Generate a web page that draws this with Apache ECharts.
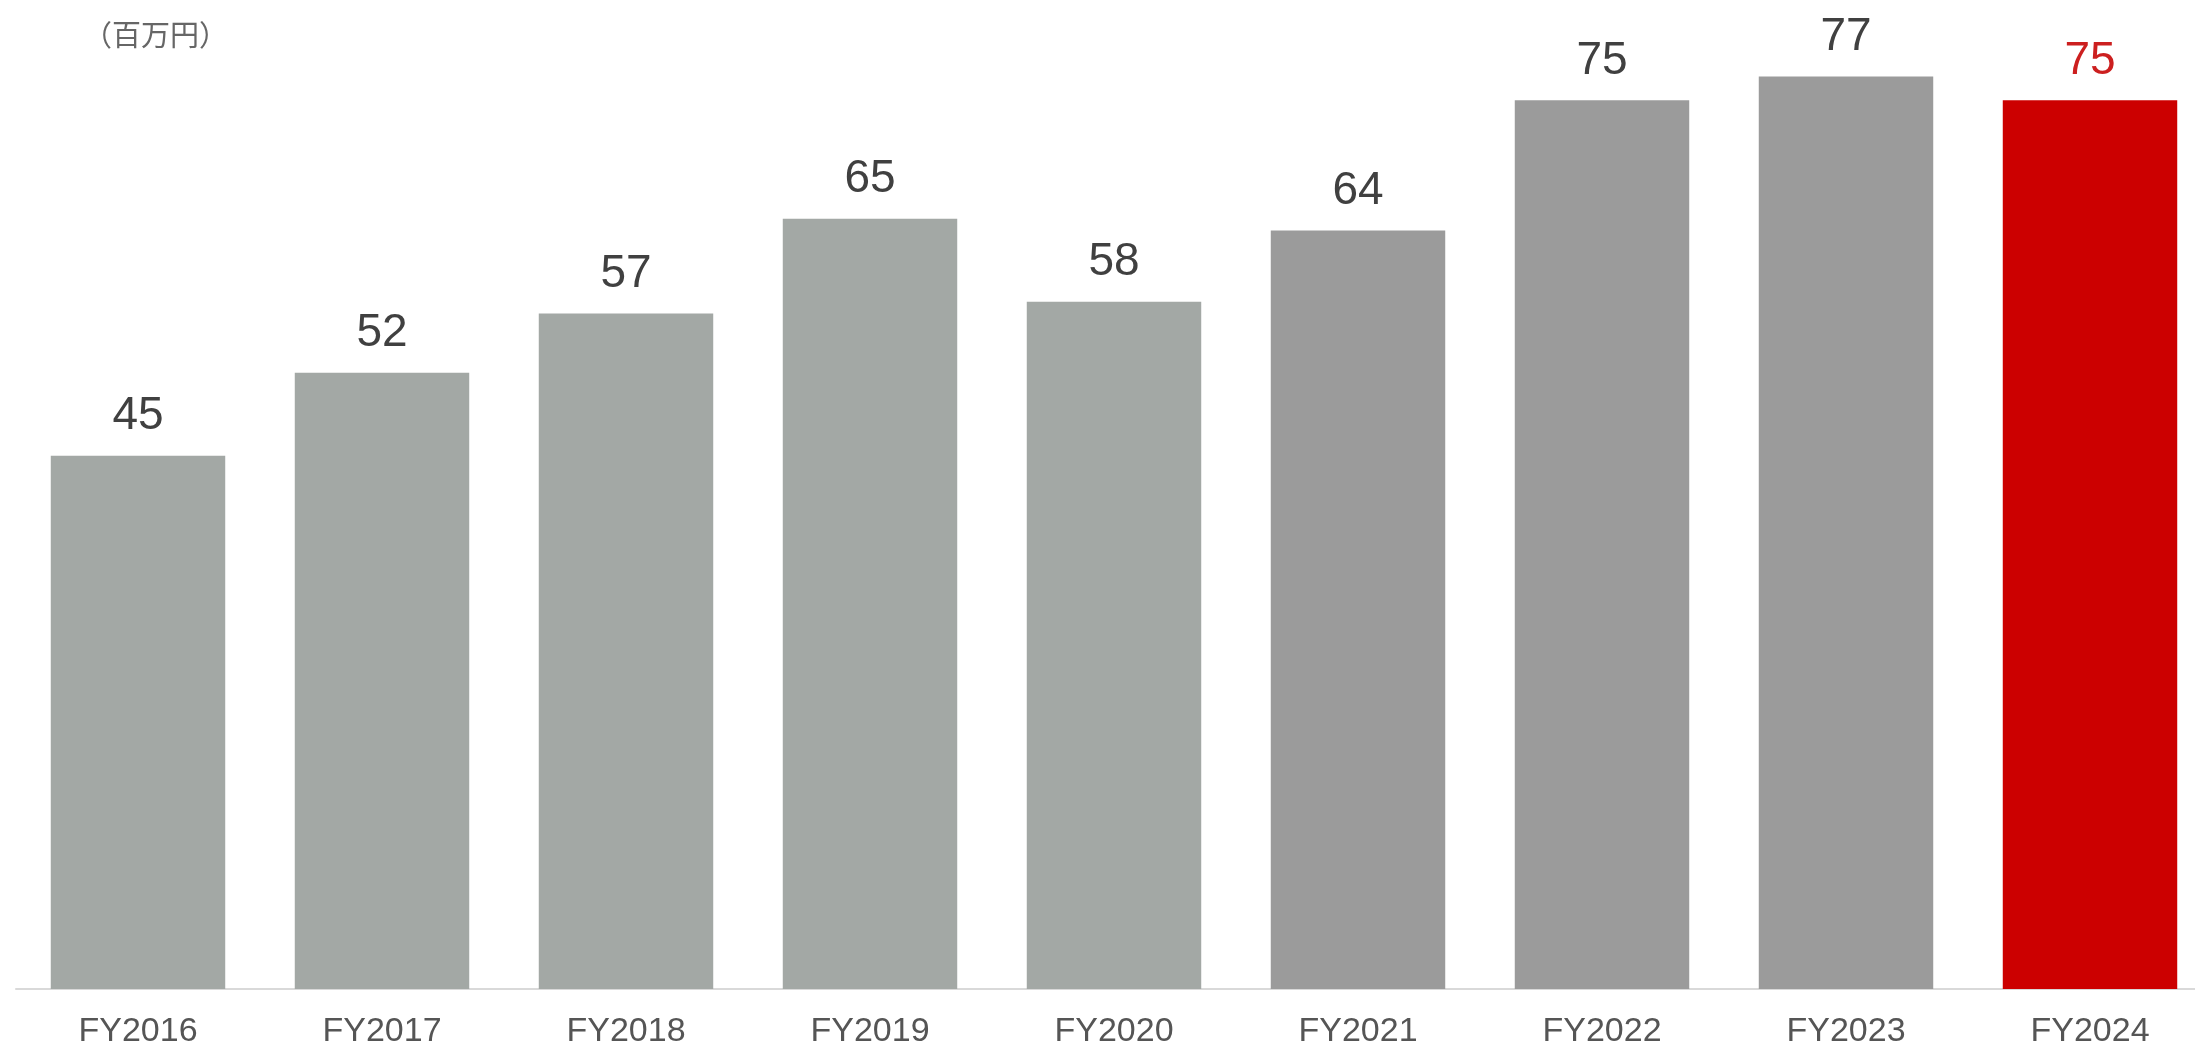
<!DOCTYPE html>
<html><head><meta charset="utf-8">
<script src="https://cdn.jsdelivr.net/npm/echarts@6/dist/echarts.min.js"></script>
<style>html,body{margin:0;padding:0;background:#fff}#c{width:2195px;height:1052px}</style>
</head><body><div id="c"></div>
<script>
const categories = ['FY2016','FY2017','FY2018','FY2019','FY2020','FY2021','FY2022','FY2023','FY2024'];
const values = [45, 52, 57, 65, 58, 64, 75, 77, 75];
const unitLabel = '（百万円）';

function barColor(i){ return i === 8 ? '#cc0000' : (i >= 5 ? '#9b9b9b' : '#a3a8a5'); }
function labelColor(i){ return i === 8 ? '#cc1f1f' : '#404040'; }

const chart = echarts.init(document.getElementById('c'));
chart.setOption({
  animation: false,
  backgroundColor: '#fff',
  title: { text: unitLabel, left: 78, top: 15,
    textStyle: { fontFamily: 'Noto Sans CJK JP', fontSize: 29, fontWeight: 'normal', color: '#666' } },
  grid: { left: 16, top: 41, width: 2196, height: 948, containLabel: false, outerBoundsMode: 'none' },
  xAxis: { type: 'category', data: categories,
    axisLine: { lineStyle: { color: '#d9d9d9', width: 2 } },
    axisTick: { show: false },
    axisLabel: { margin: 26, fontFamily: 'Liberation Sans', fontSize: 34, color: '#555' } },
  yAxis: { type: 'value', min: 0, max: 80, show: false, splitLine: { show: false } },
  series: [{
    type: 'bar', barCategoryGap: '28.5%',
    data: values.map((v, i) => ({ value: v,
      itemStyle: { color: barColor(i) },
      label: { color: labelColor(i) } })),
    label: { show: true, position: 'top', distance: 16,
      fontFamily: 'Liberation Sans', fontSize: 46 }
  }]
});
</script></body></html>
